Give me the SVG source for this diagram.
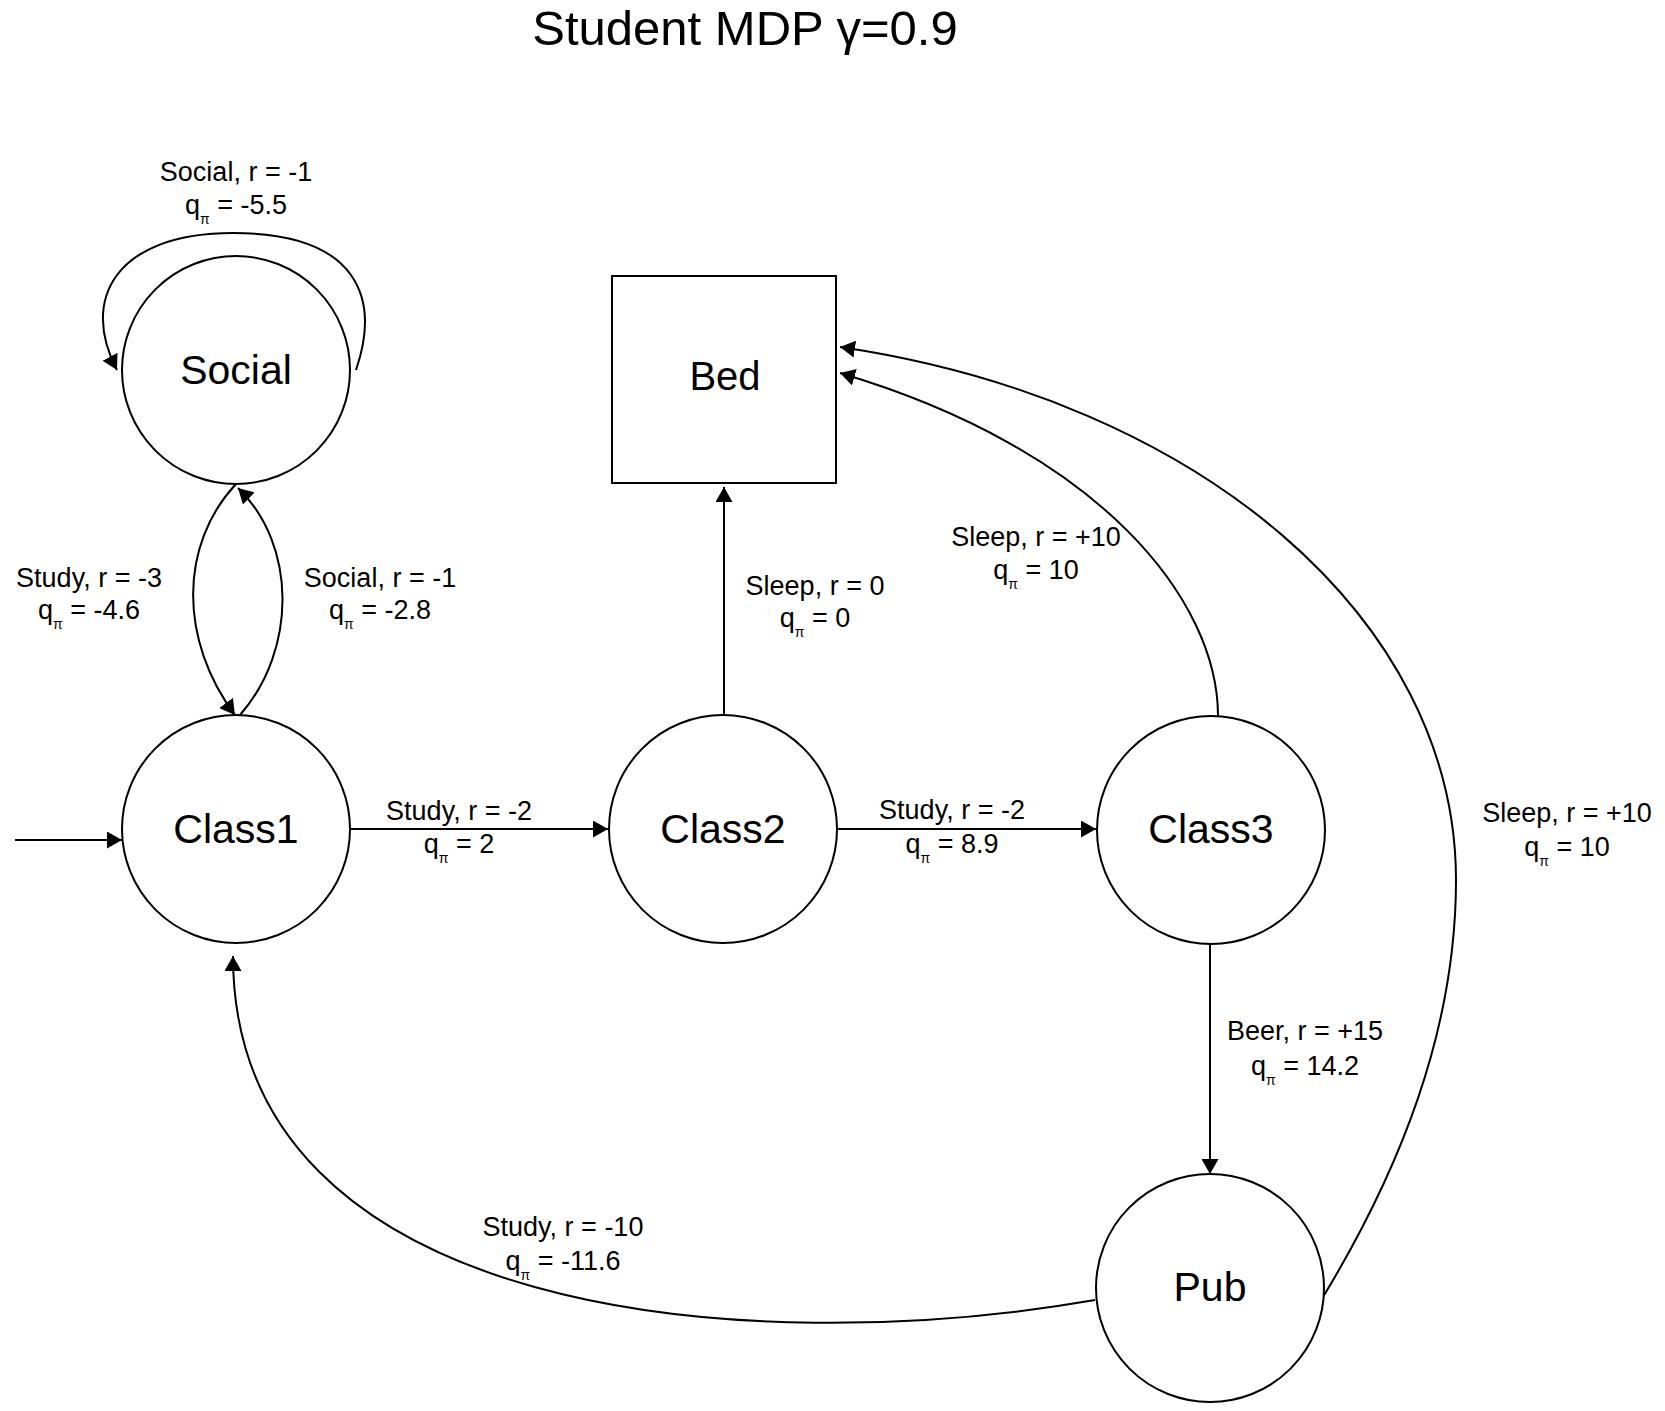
<svg xmlns="http://www.w3.org/2000/svg" width="1665" height="1411" viewBox="0 0 1665 1411">
<style>
text{font-family:"Liberation Sans",Arial,Helvetica,sans-serif;fill:#000;text-anchor:middle}
.node{fill:#fff;stroke:#000;stroke-width:2}
.nl{font-size:41px}
.el{font-size:27px}
.sub{font-size:14px}
.edge{fill:none;stroke:#000;stroke-width:2;marker-end:url(#arrow)}
.plain{fill:none;stroke:#000;stroke-width:2}
</style>
<defs>
<marker id="arrow" markerUnits="userSpaceOnUse" viewBox="0 0 15 17" refX="15" refY="8.5" markerWidth="15" markerHeight="17" orient="auto">
<path d="M0,0 L15,8.5 L0,17 Z" fill="#000"/>
</marker>
</defs>
<rect width="1665" height="1411" fill="#fff"/>
<text x="745" y="45" style="font-size:49px">Student MDP γ=0.9</text>

<g id="connectors">
<path class="edge" d="M356,370 C380,300 360,233 233,233 C115,233 80,300 117,370"/>
<path class="edge" d="M236,484 C179,545 179,640 235,715"/>
<path class="edge" d="M240,715 C297,650 297,545 238,488"/>
<path class="edge" d="M15,840 L122,840"/>
<path class="edge" d="M350,829 L608,829"/>
<path class="edge" d="M837,829 L1096,829"/>
<path class="edge" d="M724,715 L724,487"/>
<path class="edge" d="M1218,716 C1218,600 1100,450 840,373"/>
<path class="edge" d="M1323,1297 C1400,1170 1456,1030 1456,880 C1456,620 1200,400 840,347"/>
<path class="edge" d="M1210,944 L1210,1174"/>
<path class="edge" d="M1095,1300 C750,1360 233,1320 233,956"/>
</g>

<g id="edge-labels">
<text class="el" x="236" y="181">Social, r = -1</text>
<text class="el" x="236" y="214">q<tspan class="sub" dy="10">π</tspan><tspan dy="-10"> = -5.5</tspan></text>
<text class="el" x="89" y="587">Study, r = -3</text>
<text class="el" x="89" y="619">q<tspan class="sub" dy="10">π</tspan><tspan dy="-10"> = -4.6</tspan></text>
<text class="el" x="380" y="587">Social, r = -1</text>
<text class="el" x="380" y="619">q<tspan class="sub" dy="10">π</tspan><tspan dy="-10"> = -2.8</tspan></text>
<text class="el" x="459" y="820">Study, r = -2</text>
<text class="el" x="459" y="853">q<tspan class="sub" dy="10">π</tspan><tspan dy="-10"> = 2</tspan></text>
<text class="el" x="952" y="819">Study, r = -2</text>
<text class="el" x="952" y="853">q<tspan class="sub" dy="10">π</tspan><tspan dy="-10"> = 8.9</tspan></text>
<text class="el" x="815" y="595">Sleep, r = 0</text>
<text class="el" x="815" y="627">q<tspan class="sub" dy="10">π</tspan><tspan dy="-10"> = 0</tspan></text>
<text class="el" x="1036" y="546">Sleep, r = +10</text>
<text class="el" x="1036" y="579">q<tspan class="sub" dy="10">π</tspan><tspan dy="-10"> = 10</tspan></text>
<text class="el" x="1567" y="822">Sleep, r = +10</text>
<text class="el" x="1567" y="856">q<tspan class="sub" dy="10">π</tspan><tspan dy="-10"> = 10</tspan></text>
<text class="el" x="1305" y="1040">Beer, r = +15</text>
<text class="el" x="1305" y="1075">q<tspan class="sub" dy="10">π</tspan><tspan dy="-10"> = 14.2</tspan></text>
<text class="el" x="563" y="1236">Study, r = -10</text>
<text class="el" x="563" y="1270">q<tspan class="sub" dy="10">π</tspan><tspan dy="-10"> = -11.6</tspan></text>
</g>

<g id="node-social">
<circle class="node" cx="236" cy="370" r="114"/>
<text class="nl" x="236" y="384">Social</text>
</g>
<g id="node-bed">
<rect class="node" x="612" y="276" width="224" height="207"/>
<text class="nl" x="725" y="390" style="font-size:40px">Bed</text>
</g>
<g id="node-class1">
<circle class="node" cx="236" cy="829" r="114"/>
<text class="nl" x="236" y="843">Class1</text>
</g>
<g id="node-class2">
<circle class="node" cx="723" cy="829" r="114"/>
<text class="nl" x="723" y="843">Class2</text>
</g>
<g id="node-class3">
<circle class="node" cx="1211" cy="830" r="114"/>
<text class="nl" x="1211" y="843">Class3</text>
</g>
<g id="node-pub">
<circle class="node" cx="1210" cy="1288" r="114"/>
<text class="nl" x="1210" y="1301">Pub</text>
</g>
</svg>
